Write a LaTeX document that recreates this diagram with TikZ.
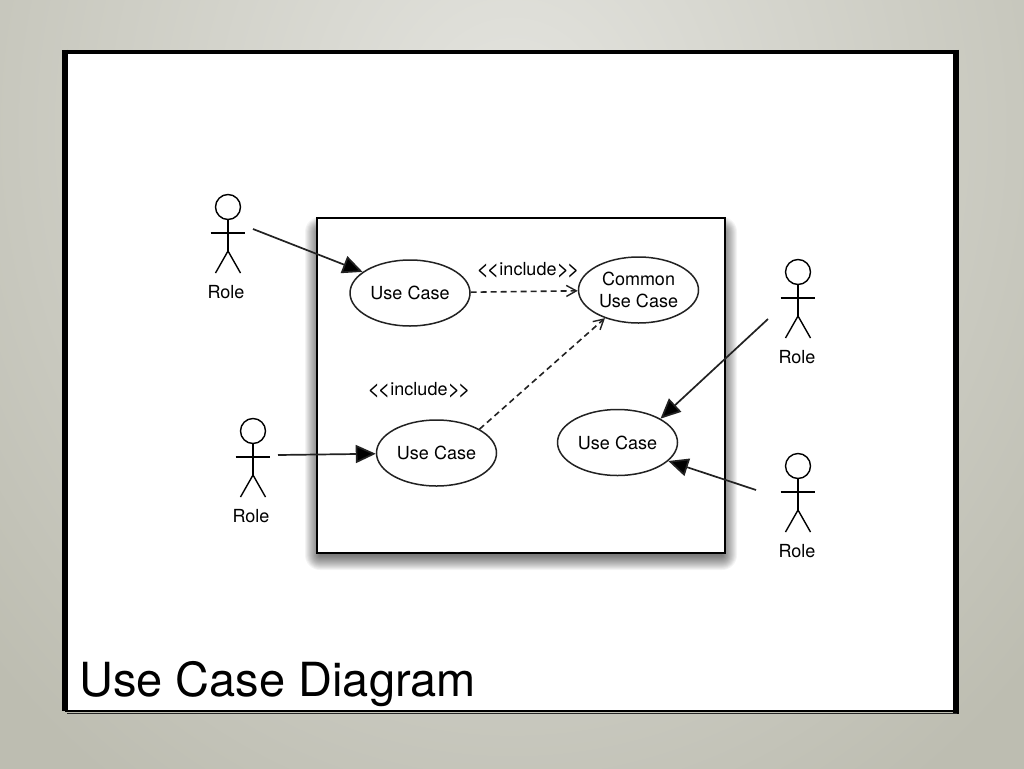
\documentclass[tikz,border=0pt]{standalone}
\usepackage{fontspec}
\setmainfont{TeX Gyre Heros}
\usetikzlibrary{arrows.meta,shapes.geometric,calc}
\definecolor{inkc}{HTML}{222222}
\definecolor{bgtop}{HTML}{E4E4DF}
\definecolor{bgbot}{HTML}{BDBDB1}
\tikzset{
  uc/.style={draw=inkc,line width=1.5pt,ellipse,inner sep=0pt,minimum width=120pt,minimum height=66pt,align=center,font=\fontsize{18}{22}\selectfont},
  lbl/.style={font=\fontsize{18}{20}\selectfont,inner sep=0pt,text=black},
  stick/.style={draw=black,line width=1.4pt},
  assoc/.style={draw=inkc,line width=1.7pt,-{Triangle[length=20pt,width=18pt,fill=black]}},
  incl/.style={draw=inkc,line width=1.6pt,dash pattern=on 6pt off 4pt,-{Straight Barb[length=10pt,width=11pt,line width=1.4pt]}},
  edgeline/.style={draw=black,line cap=butt}
}
\newcommand{\anglbl}[1]{\raisebox{-1.3pt}{\fontsize{22}{20}\selectfont#1\kern-2.5pt#1}}
\newcommand{\actorfig}[4]{% name, head x, head y, label x
  \node[circle,stick,inner sep=0pt,minimum size=25pt] (#1) at (#2,#3) {};
  \coordinate (#1w) at ($(#1)+(0,44)$);
  \draw[stick] (#1.south) -- (#1w);
  \draw[stick] ($(#1)+(-17.5,26)$) -- ($(#1)+(16.5,26)$);
  \draw[stick] ($(#1)+(-12.5,66)$) -- (#1w) -- ($(#1)+(12.5,66)$);
  \node[lbl] (#1t) at (#4,#3+85) {Role};
}
\begin{document}
\begin{tikzpicture}[x=1pt,y=-1pt]
\useasboundingbox (0,0) rectangle (1024,768);
% background
\begin{scope}
\clip (0,0) rectangle (1024,768);
\shade[inner color=bgtop,outer color=bgbot] (-188,-670) rectangle (1212,930);
\end{scope}
% slide frame
\fill[white] (66,53) rectangle (955,711);
\draw[edgeline,line width=6pt] (65,50) -- (65,711);
\draw[edgeline,line width=6pt] (956,50) -- (956,714);
\draw[edgeline,line width=4.5pt] (65,52) -- (956,52);
\draw[edgeline,line width=2pt] (65,710.5) -- (958,710.5);
\draw[edgeline,line width=1.5pt,black!85] (67,713.7) -- (957,713.7);
% system box shadow
\foreach \d in {15,14,13,12,11,10,9,8,7,6,5,4,3,2,1,0}{
  \fill[black,opacity=0.045,rounded corners=\d pt] (320-\d,232-\d) rectangle (722+\d,555+\d);
}
\node[draw=black,line width=1.5pt,fill=white,inner sep=0pt,minimum width=408pt,minimum height=335pt] (sys) at (521,385.5) {};
% use cases
\node[uc] (uc1) at (410,293) {Use Case};
\node[uc] (common) at (638.5,290) {Common\\Use Case};
\node[uc] (uc2) at (436.5,453) {Use Case};
\node[uc] (uc3) at (617.5,442.5) {Use Case};
% actors
\actorfig{a1}{228}{207}{226}
\actorfig{a2}{253}{431}{251}
\actorfig{a3}{798}{272}{797}
\actorfig{a4}{798}{466}{797}
% connector free ends
\coordinate (s1) at (253,229);
\coordinate (s2) at (278,455);
\coordinate (s3) at (768,319);
\coordinate (s4) at (756,490);
\draw[assoc] (s1) -- (uc1.156);
\draw[assoc] (s2) -- (uc2);
\draw[assoc] (s3) -- (uc3.29);
\draw[assoc] (s4) -- (uc3.340);
\draw[incl] (uc1) -- (common);
\draw[incl] (uc2.29) -- (common.220);
% labels
\node[lbl] (inc1) at (528,270.5) {\anglbl{<}include\anglbl{>}};
\node[lbl] (inc2) at (419,390.5) {\anglbl{<}include\anglbl{>}};
\node[font=\fontsize{47}{50}\selectfont,inner sep=0pt,anchor=base west,text=black] (title) at (79,696) {Use Case Diagram};
\end{tikzpicture}
\end{document}
